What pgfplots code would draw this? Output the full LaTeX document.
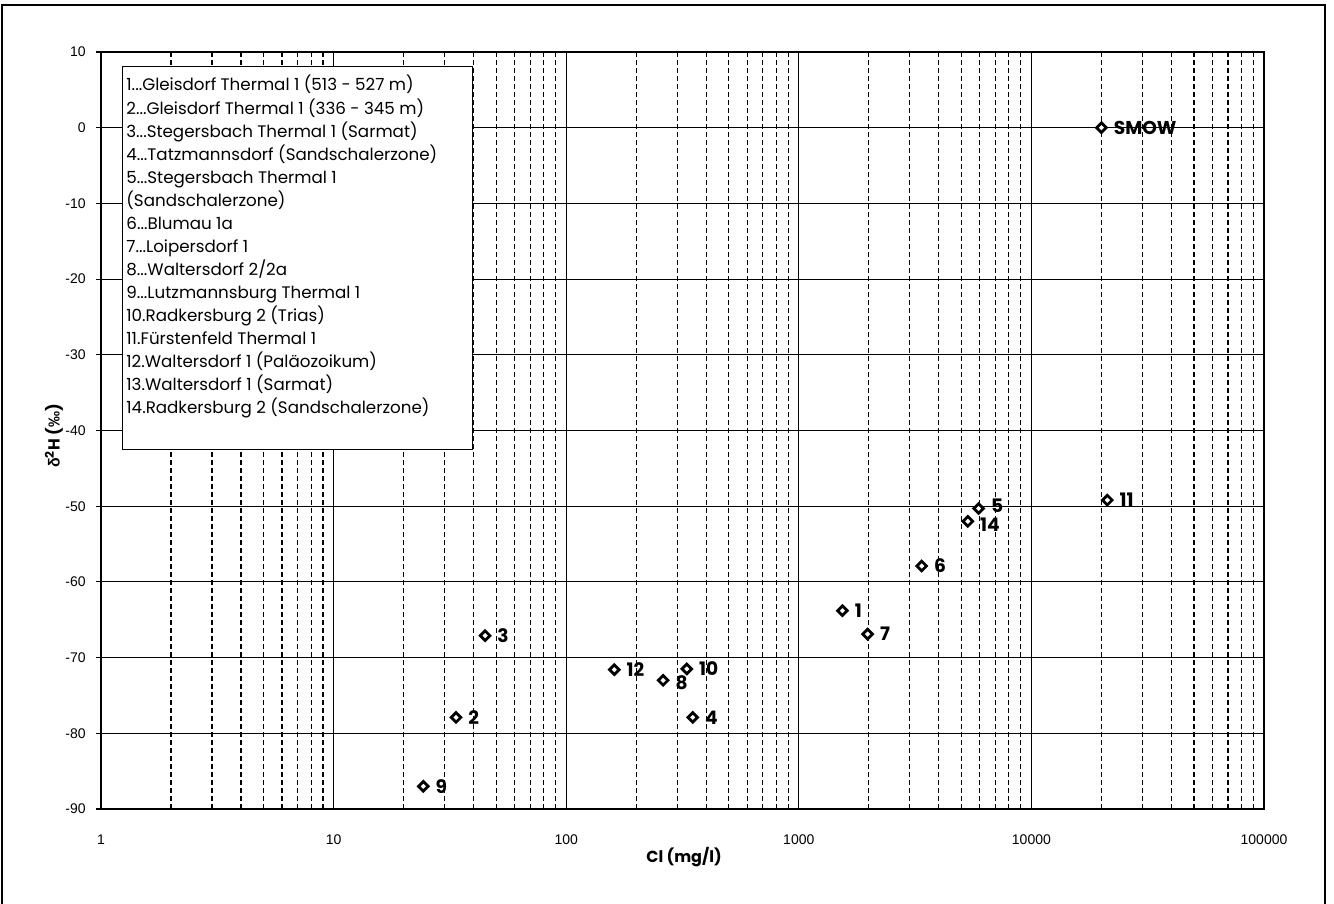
\documentclass[border=0pt]{standalone}
\usepackage{fontspec}
\setmainfont{Poppins}
\newfontfamily\tickfont{Liberation Sans}
\newfontfamily\greekfont{Liberation Sans}
\usepackage{pgfplots}
\pgfplotsset{compat=1.18}
\newcommand\dd{...}
\begin{document}
\begin{tikzpicture}
\path[use as bounding box] (0,0) rectangle (667pt,452pt);
\draw[line width=1pt] (0.9pt,0) -- (0.9pt,449.5pt) -- (662.7pt,449.5pt) -- (662.7pt,0);
\begin{axis}[
  at={(50.5pt,47.5pt)}, anchor=south west,
  scale only axis, width=581.5pt, height=378.5pt,
  xmode=log, xmin=1, xmax=100000, ymin=-90, ymax=10,
  xtick={1,10,100,1000,10000,100000},
  xticklabels={1,10,100,1000,10000,100000},
  minor xtick={2,3,4,5,6,7,8,9,20,30,40,50,60,70,80,90,200,300,400,500,600,700,800,900,2000,3000,4000,5000,6000,7000,8000,9000,20000,30000,40000,50000,60000,70000,80000,90000},
  ytick={-90,-80,-70,-60,-50,-40,-30,-20,-10,0,10},
  yticklabels={-90,-80,-70,-60,-50,-40,-30,-20,-10,0,10},
  xmajorgrids, xminorgrids, ymajorgrids,
  major grid style={black, line width=0.55pt},
  minor grid style={black, line width=0.55pt, dash pattern=on 2.5pt off 1.5pt},
  axis line style={black, line width=0.7pt},
  xtick style={draw=none}, minor tick length=0pt,
  ytick pos=left, tick align=outside, major tick length=2.5pt,
  ytick style={black, line width=0.55pt},
  xticklabel style={font=\tickfont\fontsize{7pt}{8pt}\selectfont, anchor=center, yshift=-13pt},
  yticklabel style={font=\tickfont\fontsize{7pt}{8pt}\selectfont, anchor=east, inner sep=0pt, xshift=-5pt},
  clip=false,
]
\addplot[only marks, mark=square*, mark size=1.7pt,
  mark options={fill=white, draw=black, line width=1.4pt, rotate=45},
  nodes near coords, point meta=explicit symbolic,
  visualization depends on={\thisrow{dy} \as \labdy},
  every node near coord/.append style={anchor=west, inner sep=0pt, xshift=5.5pt, yshift=\labdy pt, font=\bfseries\fontsize{9.3pt}{10pt}\selectfont}]
  table[meta=lab] {
x y lab dy
1540 -63.8 1 0
33.6 -77.9 2 0
44.8 -67.1 3 0
350 -77.9 4 0
5930 -50.3 5 1.5
3375 -57.9 6 0
1977 -66.9 7 0
261 -73.0 8 -1
24.3 -87.0 9 0
330 -71.5 10 0
21200 -49.2 11 0
161 -71.6 12 0
5330 -52.0 14 -1.5
20000 0 SMOW 0
};
\end{axis}
\node[draw=black, line width=0.7pt, fill=white, anchor=north west, minimum width=175pt, minimum height=191.5pt, inner sep=0pt] at (60.8pt,419pt) {};
\foreach \t [count=\i from 0] in {
 {1\dd{}Gleisdorf Thermal 1 (513 - 527 m)},
 {2\dd{}Gleisdorf Thermal 1 (336 - 345 m)},
 {3\dd{}Stegersbach Thermal 1 (Sarmat)},
 {4\dd{}Tatzmannsdorf (Sandschalerzone)},
 {5\dd{}Stegersbach Thermal 1},
 {(Sandschalerzone)},
 {6\dd{}Blumau 1a},
 {7\dd{}Loipersdorf 1},
 {8\dd{}Waltersdorf 2/2a},
 {9\dd{}Lutzmannsburg Thermal 1},
 {10.Radkersburg 2 (Trias)},
 {11.Fürstenfeld Thermal 1},
 {12.Waltersdorf 1 (Paläozoikum)},
 {13.Waltersdorf 1 (Sarmat)},
 {14.Radkersburg 2 (Sandschalerzone)}}
{
 \node[anchor=base west, inner sep=0pt, font=\fontsize{8.35pt}{9pt}\selectfont] at (63pt,{406.5pt-\i*11.53pt}) {\t};
}
\node[font=\bfseries\fontsize{8pt}{9pt}\selectfont] at (342pt,23.5pt) {Cl (mg/l)};
\node[rotate=90, font=\bfseries\fontsize{8pt}{9pt}\selectfont] at (27pt,234pt) {{\greekfont δ}\textsuperscript{2}H ({\greekfont ‰})};
\end{tikzpicture}
\end{document}
